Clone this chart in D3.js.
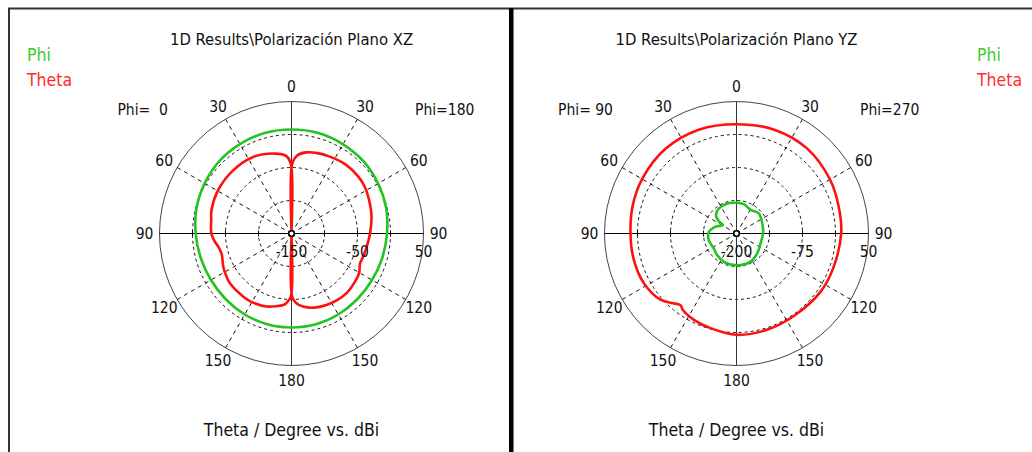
<!DOCTYPE html>
<html>
<head>
<meta charset="utf-8">
<script src="https://cdn.jsdelivr.net/npm/d3@7"></script>
<style>
    body { margin: 0; background: #fff; }
    svg { display: block; }
    text { font-family: "DejaVu Sans Condensed", "DejaVu Sans", sans-serif; fill: #111; }
</style>
</head>
<body>
<svg id="chart" width="1032" height="452"></svg>
<script>

const titles = ['1D Results\\Polarización Plano XZ', '1D Results\\Polarización Plano YZ'];
const axisTitle = 'Theta / Degree vs. dBi';
const legendLabels = ['Phi', 'Theta'];
const phiLabels = [['Phi=  0', 'Phi=180'], ['Phi= 90', 'Phi=270']];
const angleTicks = [0, 30, 60, 90, 120, 150, 180];
const xzValueTicks = [-150, -50, 50];
const yzValueTicks = [-200, -75, 50];

// angles: degrees clockwise from top (right half = 0..180, left half = 180..360)
const xzThetaAngles = [0, 0.6, 4, 10, 18, 26, 38, 50, 58, 68, 78, 90, 100, 108, 114, 120, 128, 137, 146, 154, 163, 171, 176, 179.4,
    180, 180.6, 184, 186, 199, 210, 217, 231, 238, 244, 254, 260, 264, 270, 280, 286, 300, 317, 333, 348, 356, 359.4];
const xzTheta = [-150, -44, -31.8, -25.2, -22, -20, -17.1, -17, -18.5, -22.5, -26, -31, -34.3, -36, -36.5, -31.5, -29, -27, -27.7, -29.5, -32.5, -37.9, -44, -54.5,
    -150, -54.5, -45, -41.5, -33, -30, -29.7, -30, -32.5, -35, -39.8, -37.1, -33.2, -28.5, -26.5, -23.8, -20.9, -19.7, -20.2, -26.2, -32, -44];

const xzPhiAngles = [0, 15, 30, 45, 60, 75, 90, 105, 120, 135, 150, 165, 180, 195, 210, 225, 240, 255, 270, 285, 300, 315, 330, 345];
const xzPhi = [7.6, 7.6, 6.1, 4.5, 1.5, -1.5, -5.3, -7.6, -9.1, -9.1, -8.3, -7.6, -7.6, -7.6, -8.3, -9.1, -9.1, -7.6, -4.8, -1, 2, 4.8, 6.4, 7.6];

const yzThetaAngles = [0, 20, 40, 60, 75, 90, 110, 125, 145, 162, 180, 195, 206, 215, 218, 223, 229, 242, 256, 270, 285, 300, 320, 340];
const yzTheta = [7, 9.3, 9.3, 4.5, 0.2, -1.7, -5.5, -6.3, -9.7, -8.7, -8.1, -14, -17.6, -23, -27.7, -20, -9, -0.8, 0.75, 0.75, 3.6, 6.4, 9.3, 9.3];

const yzPhiAngles = [0, 14, 31, 48, 69, 90, 112, 134, 154, 180, 204, 222, 236, 256, 273, 288, 302, 304.5, 308, 313, 325, 343];
const yzPhi = [-141.9, -142.8, -148, -143.2, -147.7, -149.8, -150.8, -145.5, -140.2, -140, -141.3, -145.1, -148.5, -146, -147.5, -158.3, -169.7, -160, -152.7, -147, -142, -140.5];

const GREEN = '#22c322';
const RED = '#ff1010';
const R = 132;

const svg = d3.select('#chart');

// frame
svg.append('path')
    .attr('d', 'M9,452V8.5H1032')
    .attr('fill', 'none')
    .attr('stroke', '#333')
    .attr('stroke-width', 2);

svg.append('rect')
    .attr('x', 509)
    .attr('y', 8)
    .attr('width', 4.5)
    .attr('height', 444)
    .attr('fill', '#000');

const panels = [
    {
        cx: 291.5, cy: 233.5, domain: [-150, 50], valueTicks: xzValueTicks,
        title: titles[0], phi: phiLabels[0], legendX: 27,
        series: [
            {angles: xzPhiAngles, values: xzPhi, color: GREEN},
            {angles: xzThetaAngles, values: xzTheta, color: RED}
        ]
    },
    {
        cx: 736.5, cy: 233.5, domain: [-200, 50], valueTicks: yzValueTicks,
        title: titles[1], phi: phiLabels[1], legendX: 977,
        series: [
            {angles: yzPhiAngles, values: yzPhi, color: GREEN},
            {angles: yzThetaAngles, values: yzTheta, color: RED}
        ]
    }
];

panels.forEach(drawPanel);

function drawPanel(p) {

    const r = d3.scaleLinear().domain(p.domain).range([0, R]).clamp(true);
    const a = d3.scaleLinear().domain([0, 360]).range([0, 2 * Math.PI]);
    const step = (p.domain[1] - p.domain[0]) / 4;
    const rings = d3.range(1, 4).map(i => p.domain[0] + i * step);

    svg.append('text')
        .attr('x', p.cx)
        .attr('y', 45)
        .attr('text-anchor', 'middle')
        .style('font-size', '16.5px')
        .text(p.title);

    svg.append('text')
        .attr('x', p.cx)
        .attr('y', 436)
        .attr('text-anchor', 'middle')
        .style('font-size', '17.5px')
        .text(axisTitle);

    svg.selectAll(null)
        .data(legendLabels)
        .enter()
        .append('text')
        .attr('x', p.legendX)
        .attr('y', (d, i) => 61 + i * 25)
        .style('font-size', '17.5px')
        .style('fill', (d, i) => i ? '#ff2a2a' : '#3ccc2a')
        .text(d => d);

    svg.append('text')
        .attr('x', p.cx - 123.5)
        .attr('y', 115)
        .attr('text-anchor', 'end')
        .style('font-size', '15.5px')
        .style('white-space', 'pre')
        .text(p.phi[0]);

    svg.append('text')
        .attr('x', p.cx + 123.5)
        .attr('y', 115)
        .style('font-size', '15.5px')
        .style('white-space', 'pre')
        .text(p.phi[1]);

    const g = svg.append('g').attr('transform', `translate(${p.cx},${p.cy})`);

    g.selectAll(null)
        .data(rings)
        .enter()
        .append('circle')
        .attr('r', d => r(d))
        .attr('fill', 'none')
        .attr('stroke', '#111')
        .attr('stroke-dasharray', '3,3');

    g.append('circle')
        .attr('r', R)
        .attr('fill', 'none')
        .attr('stroke', '#444');

    const spokes = [30, 60, 120, 150, 210, 240, 300, 330];

    g.selectAll(null)
        .data(spokes)
        .enter()
        .append('line')
        .attr('x2', d => R * Math.sin(a(d)))
        .attr('y2', d => -R * Math.cos(a(d)))
        .attr('stroke', '#111')
        .attr('stroke-dasharray', '4,4');

    g.append('line')
        .attr('x1', -R).attr('x2', R)
        .attr('stroke', '#000');

    g.append('line')
        .attr('y1', -R).attr('y2', R)
        .attr('stroke', '#333');

    g.selectAll(null)
        .data(rings.concat(rings).map((d, i) => i < 3 ? r(d) : -r(d)))
        .enter()
        .append('line')
        .attr('x1', d => d).attr('x2', d => d)
        .attr('y1', -3).attr('y2', 3)
        .attr('stroke', '#000');

    const line = d3.lineRadial()
        .angle(d => a(d[0]))
        .radius(d => r(d[1]))
        .curve(d3.curveCatmullRomClosed.alpha(0.5));

    p.series.forEach(s => {
        g.append('path')
            .datum(d3.zip(s.angles, s.values))
            .attr('d', line)
            .attr('fill', 'none')
            .attr('stroke', s.color)
            .attr('stroke-width', 2.6)
            .attr('stroke-linejoin', 'round');
    });

    g.append('circle')
        .attr('r', 2.8)
        .attr('fill', '#fff')
        .attr('stroke', '#000')
        .attr('stroke-width', 1.6);

    const angleLabels = angleTicks.map(d => ({label: d, angle: d}))
        .concat(angleTicks.filter(d => d > 0 && d < 180).map(d => ({label: d, angle: 360 - d})));

    g.selectAll(null)
        .data(angleLabels)
        .enter()
        .append('text')
        .attr('x', d => 147 * Math.sin(a(d.angle)))
        .attr('y', d => -147 * Math.cos(a(d.angle)))
        .attr('dy', '0.36em')
        .attr('text-anchor', 'middle')
        .style('font-size', '15.5px')
        .text(d => d.label);

    g.selectAll(null)
        .data(p.valueTicks)
        .enter()
        .append('text')
        .attr('x', d => r(d))
        .attr('y', 23)
        .attr('text-anchor', 'middle')
        .style('font-size', '15.5px')
        .text(d => d);
}

</script>
</body>
</html>
